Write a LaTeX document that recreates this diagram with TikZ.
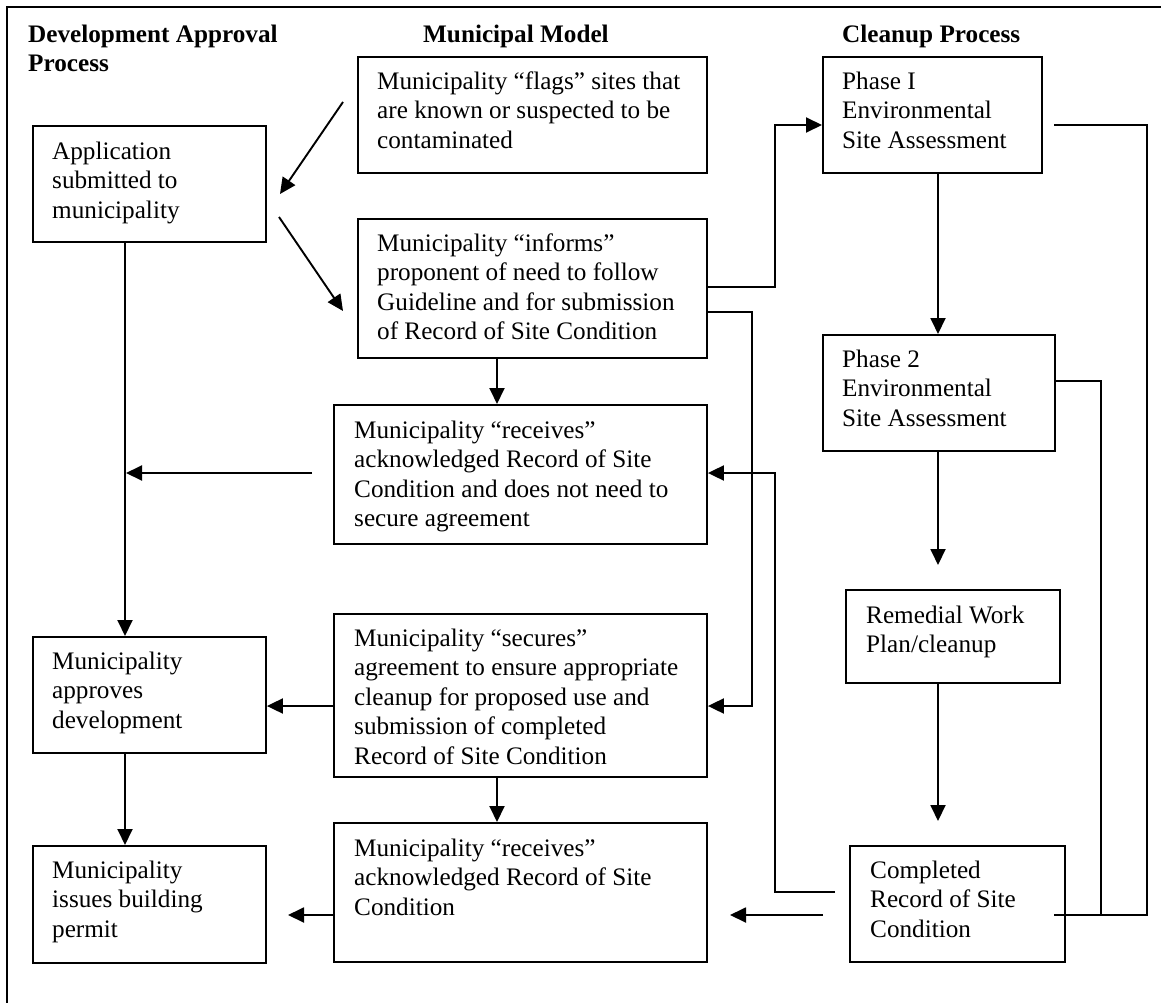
\documentclass[tikz,border=0pt]{standalone}
\usepackage{fontspec}
\setmainfont{Liberation Serif}
\usetikzlibrary{arrows.meta,calc}
\begin{document}
\begin{tikzpicture}[x=1pt,y=-1pt,
 box/.style={draw,line width=1.9pt,inner sep=0pt,anchor=north west,rectangle},
 txt/.style={inner sep=0pt,anchor=north west,align=left,font=\fontsize{25.2}{29.5}\selectfont},
 head/.style={txt,font=\fontsize{25.2}{29.5}\selectfont\bfseries},
 ln/.style={line width=1.9pt},
 arr/.style={ln,-{Triangle[length=16pt,width=15pt]}}]
\useasboundingbox (0,0) rectangle (1161,1003);
\draw[ln] (1161,7) -- (7,7) -- (7,1003);

% headings
\node[head] (h1) at (28,21.4) {\strut Development Approval\\Process};
\node[head] (h2) at (423,21.4) {\strut Municipal Model};
\node[head] (h3) at (842,21.4) {\strut Cleanup Process};

% boxes
\node[box, minimum width=233, minimum height=116] (app) at (32,125) {};
\node[box, minimum width=349, minimum height=116] (flag) at (357,56) {};
\node[box, minimum width=349, minimum height=139] (inf) at (357,218) {};
\node[box, minimum width=373, minimum height=139] (rc1) at (333,404) {};
\node[box, minimum width=373, minimum height=163] (sec) at (333,613) {};
\node[box, minimum width=373, minimum height=139] (rc2) at (333,822) {};
\node[box, minimum width=233, minimum height=116] (apv) at (32,636) {};
\node[box, minimum width=233, minimum height=117] (iss) at (32,845) {};
\node[box, minimum width=219, minimum height=116] (ph1) at (822,56) {};
\node[box, minimum width=232, minimum height=116] (ph2) at (822,334) {};
\node[box, minimum width=214, minimum height=93] (rem) at (845,589) {};
\node[box, minimum width=215, minimum height=116] (cmp) at (849,845) {};

% texts
\node[txt] (appT) at (52,138.4) {\strut Application\\submitted to\\municipality};
\node[txt] (flagT) at (377,68.4) {\strut Municipality “flags” sites that\\are known or suspected to be\\contaminated};
\node[txt] (infT) at (377,230.4) {\strut Municipality “informs”\\proponent of need to follow\\Guideline and for submission\\of Record of Site Condition};
\node[txt] (rc1T) at (354,417.4) {\strut Municipality “receives”\\acknowledged Record of Site\\Condition and does not need to\\secure agreement};
\node[txt] (secT) at (354,625.4) {\strut Municipality “secures”\\agreement to ensure appropriate\\cleanup for proposed use and\\submission of completed\\Record of Site Condition};
\node[txt] (rc2T) at (354,835.4) {\strut Municipality “receives”\\acknowledged Record of Site\\Condition};
\node[txt] (apvT) at (52,648.4) {\strut Municipality\\approves\\development};
\node[txt] (issT) at (52,857.4) {\strut Municipality\\issues building\\permit};
\node[txt] (ph1T) at (842,68.4) {\strut Phase I\\Environmental\\Site Assessment};
\node[txt] (ph2T) at (842,346.4) {\strut Phase 2\\Environmental\\Site Assessment};
\node[txt] (remT) at (866,602.4) {\strut Remedial Work\\Plan/cleanup};
\node[txt] (cmpT) at (870,857.4) {\strut Completed\\Record of Site\\Condition};

% free ends
\coordinate (a1s) at (343,102);
\coordinate (a1e) at (280,194);
\coordinate (a2s) at (279,217);
\coordinate (a2e) at (343,311);
\coordinate (r1s) at (312,473);
\coordinate (r1e) at (126,473);
\coordinate (r2e) at (288,915);
\coordinate (c1s) at (823,915);
\coordinate (c1e) at (730,915);
\coordinate (c2s) at (835,892);
\coordinate (p1s) at (1054,125);
\coordinate (p1e) at (1054,915);
\coordinate (p2e) at (938,565);
\coordinate (p3e) at (938,821);

% connectors
\draw[arr] (a1s) -- (a1e);
\draw[arr] (a2s) -- (a2e);
\draw[arr] (inf.east |- 0,287) -| (775,125) -- (ph1.west |- 0,125);
\draw[arr] (inf.east |- 0,312) -| (752,706) -- (sec.east |- 0,706);
\draw[arr] (inf.south -| 497,0) -- (rc1.north -| 497,0);
\draw[arr] (r1s) -- (r1e);
\draw[arr] (app.south -| 125,0) -- (apv.north -| 125,0);
\draw[arr] (sec.west |- 0,706) -- (apv.east |- 0,706);
\draw[arr] (apv.south -| 125,0) -- (iss.north -| 125,0);
\draw[arr] (sec.south -| 497,0) -- (rc2.north -| 497,0);
\draw[arr] (rc2.west |- 0,915) -- (r2e);
\draw[arr] (c1s) -- (c1e);
\draw[arr] (c2s) -| (775,473) -- (rc1.east |- 0,473);
\draw[ln] (p1s) -| (1147,915) -- (p1e);
\draw[ln] (ph2.east |- 0,381) -| (1101,915);
\draw[arr] (ph1.south -| 938,0) -- (ph2.north -| 938,0);
\draw[arr] (ph2.south -| 938,0) -- (p2e);
\draw[arr] (rem.south -| 938,0) -- (p3e);
\end{tikzpicture}
\end{document}
